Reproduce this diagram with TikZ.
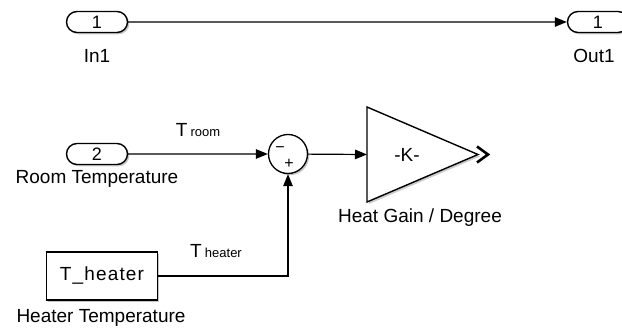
\documentclass[tikz,border=0pt]{standalone}
\usepackage{fontspec}
\setmainfont{Liberation Sans}
\usetikzlibrary{arrows.meta,shapes.misc,shadows}
\begin{document}
\begin{tikzpicture}[x=1pt,y=-1pt,
  >={Triangle[length=12pt,width=9.5pt]},
  lbl/.style={font=\fontsize{19}{21}\selectfont, inner sep=0pt},
  shd/.style={drop shadow={shadow xshift=1.8pt, shadow yshift=-1.8pt, opacity=0.22, fill=black}},
  port/.style={rounded rectangle, draw, line width=1.4pt, minimum width=61pt, minimum height=21pt,
    inner sep=0pt, fill=white, shd, font=\fontsize{18}{20}\selectfont},
  wire/.style={line width=1.2pt},
  sumnode/.style={circle, draw, line width=1.3pt, minimum size=39pt, inner sep=0pt, fill=white, shd},
  blockbox/.style={draw, line width=1.8pt, minimum width=111pt, minimum height=48pt, fill=white, shd,
    font=\fontsize{19}{21}\selectfont\addfontfeatures{LetterSpace=6}}
]
\clip (0,0) rectangle (622,329);
\fill[white] (0,0) rectangle (622,329);

% ports
\node[port] (in1) at (97,22) {1};
\node[lbl] (in1lbl) at (97,56) {In1};
\node[port] (out1) at (598,22) {1};
\node[lbl] (out1lbl) at (594,56) {Out1};

\node[port] (in2) at (97,154) {2};
\node[lbl] (in2lbl) at (97,179) {Room Temperature};

% sum
\node[sumnode] (sum) at (288,154) {};
\node[font=\fontsize{16}{16}\selectfont, inner sep=0pt] (minus) at (280,150) {\char"2212};
\node[font=\fontsize{16}{16}\selectfont, inner sep=0pt] (plus) at (289,164) {+};

% gain triangle
\coordinate (gin) at (367,154.5);
\coordinate (gtop) at (367,107);
\coordinate (gbot) at (367,202);
\coordinate (gout) at (478,154.5);
\fill[black, opacity=0.2] ([shift={(2,2)}]gtop) -- ([shift={(2,2)}]gout) -- ([shift={(2,2)}]gbot) -- cycle;
\draw[line width=1.4pt, fill=white, line join=miter] (gtop) -- (gout) -- (gbot) -- cycle;
\node[lbl] (gainK) at (407,155) {-K-};
\node[lbl] (gainlbl) at (420,218) {Heat Gain / Degree};
\draw[line width=2.6pt, line join=miter] (477,146.5) -- (488,154.5) -- (477,162.5);

% heater block
\node[blockbox] (theater) at (102,276) {T\_heater};
\node[lbl] (theaterlbl) at (101,318) {Heater Temperature};

% signal labels
\node[inner sep=0pt, anchor=base] (troom) at (198,137) {\fontsize{19}{21}\selectfont T\,\fontsize{13}{14}\selectfont room};
\node[inner sep=0pt, anchor=base] (theatlbl) at (216,257) {\fontsize{19}{21}\selectfont T\,\fontsize{13}{14}\selectfont heater};

% wires
\draw[wire,->] (in1) -- (out1);
\draw[wire,->] (in2) -- (sum);
\draw[wire,->] (sum) -- (gin);
\draw[wire,->] (theater.east) -| (sum.south);
\end{tikzpicture}
\end{document}
